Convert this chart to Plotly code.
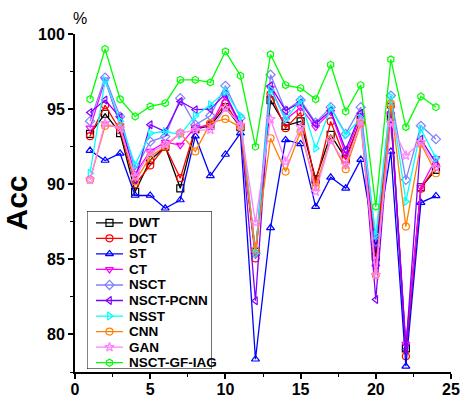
import plotly.graph_objects as go

x_vals = list(range(1, 25))

DWT = [93.35, 94.69, 93.4, 89.5, 91.6, 92.5, 89.73, 93.67, 93.9, 95.13, 93.8, 85.5,
       95.6, 93.89, 94.18, 90.33, 93.29, 91.7, 94.29, 85.18, 94.5, 79.07, 89.8, 90.96]
DCT = [93.2, 95.25, 93.6, 90.0, 91.25, 92.5, 90.4, 93.7, 94.0, 95.4, 93.8, 85.06,
       96.0, 93.73, 94.78, 90.11, 94.18, 91.62, 94.29, 85.62, 95.2, 78.55, 89.7, 91.2]
ST = [92.24, 91.58, 92.05, 89.25, 89.25, 88.4, 88.95, 93.2, 90.55, 91.98, 93.4, 78.35,
      87.1, 92.95, 92.68, 88.51, 90.46, 89.73, 91.64, 85.8, 92.18, 77.88, 88.78, 89.22]
CT = [93.75, 96.95, 93.9, 90.7, 92.2, 92.8, 92.6, 93.8, 93.9, 95.84, 93.9, 85.3,
      96.4, 94.3, 95.1, 93.8, 94.8, 92.0, 94.6, 84.5, 94.62, 79.35, 89.8, 91.73]
NSCT = [94.2, 97.1, 94.5, 90.96, 92.84, 93.18, 95.73, 93.96, 94.56, 96.55, 94.4, 85.4,
        97.29, 94.9, 95.6, 94.1, 95.13, 93.35, 95.13, 86.18, 95.9, 90.29, 93.89, 93.0]
NSCT_PCNN = [94.78, 95.6, 94.45, 90.3, 93.96, 93.5, 95.51, 94.96, 95.0, 96.0, 94.0, 82.24,
             96.55, 94.9, 95.44, 94.02, 94.9, 92.29, 94.73, 82.33, 94.8, 79.0, 93.0, 91.4]
NSST = [90.73, 96.9, 94.2, 91.29, 93.4, 93.51, 93.3, 94.55, 95.29, 96.18, 94.55, 85.4,
        96.29, 94.33, 95.58, 92.4, 95.07, 93.29, 94.4, 86.62, 95.8, 88.85, 93.67, 91.73]
CNN = [90.3, 93.89, 93.84, 90.18, 91.84, 92.51, 93.4, 92.18, 94.07, 94.35, 93.8, 85.6,
       93.06, 90.84, 93.51, 89.84, 93.0, 91.0, 94.02, 83.95, 95.36, 87.18, 92.69, 90.73]
GAN = [90.3, 94.07, 93.7, 90.51, 92.1, 92.62, 93.4, 93.6, 93.62, 95.07, 93.95, 87.44,
       94.33, 91.5, 93.8, 89.51, 92.91, 91.29, 94.2, 83.95, 94.07, 91.91, 92.8, 91.1]
NSCT_GF_IAG = [95.66, 99.0, 95.66, 94.51, 95.18, 95.4, 96.95, 96.95, 96.78, 98.84, 97.22, 92.5,
               98.64, 96.6, 96.4, 95.66, 97.95, 94.84, 96.6, 88.51, 98.31, 93.8, 95.84, 95.13]

series_names = ["DWT", "DCT", "ST", "CT", "NSCT", "NSCT-PCNN", "NSST", "CNN", "GAN", "NSCT-GF-IAG"]
series_values = [DWT, DCT, ST, CT, NSCT, NSCT_PCNN, NSST, CNN, GAN, NSCT_GF_IAG]
colors = ["#000000", "#FF0000", "#0000FF", "#FF00FF", "#8080FF", "#8000FF",
          "#00FFFF", "#FF8000", "#FF80FF", "#00FF00"]
symbols = ["square-open", "circle-open", "triangle-up-open", "triangle-down-open",
           "diamond-open", "triangle-left-open", "triangle-right-open", "circle-open",
           "star-open", "hexagon-open"]

FONT = "Liberation Sans, Arial"

fig = go.Figure()
for name, vals, c, s in zip(series_names, series_values, colors, symbols):
    fig.add_trace(go.Scatter(
        x=x_vals, y=vals, name=name, mode="lines+markers", showlegend=False,
        line=dict(color=c, width=1.3),
        marker=dict(symbol=s, size=7, color=c, line=dict(color=c, width=1.2)),
    ))

# Compact legend drawn in its own small axes (units ~ pixels inside the box)
LX0, LX1, LY0, LY1 = 0.0, 125.0, 0.0, 158.0
row_first, row_step = 11.7, 15.56
annotations = []
for i, (name, c, s) in enumerate(zip(series_names, colors, symbols)):
    ry = row_first + i * row_step
    fig.add_trace(go.Scatter(
        x=[9, 36], y=[ry, ry], mode="lines", xaxis="x2", yaxis="y2",
        showlegend=False, hoverinfo="skip", line=dict(color=c, width=1.3)))
    fig.add_trace(go.Scatter(
        x=[22.5], y=[ry], mode="markers", xaxis="x2", yaxis="y2",
        showlegend=False, hoverinfo="skip",
        marker=dict(symbol=s, size=7, color=c, line=dict(color=c, width=1.2))))
    annotations.append(dict(
        text=name, xref="x2", yref="y2", x=40, y=ry, xanchor="left", yanchor="middle",
        showarrow=False, font=dict(family=FONT, size=13.5, color="black", weight="bold")))

annotations.append(dict(text="%", xref="paper", yref="paper", x=0.013, y=1.0,
                        xanchor="center", yanchor="bottom", yshift=5, showarrow=False,
                        font=dict(family=FONT, size=16, color="black")))

fig.update_layout(
    width=465, height=400,
    margin=dict(l=75, r=14, t=34, b=28),
    paper_bgcolor="white", plot_bgcolor="white",
    font=dict(family=FONT, color="black"),
    showlegend=False,
    xaxis=dict(
        range=[0, 25], tickmode="array", tickvals=[0, 5, 10, 15, 20, 25], automargin=False,
        showgrid=False, zeroline=False, showline=True, linecolor="black", linewidth=2,
        ticks="outside", ticklen=5, tickwidth=2, tickcolor="black", ticklabelstandoff=-3,
        tickfont=dict(family=FONT, size=16, color="black", weight="bold"),
        minor=dict(tickvals=[2.5, 7.5, 12.5, 17.5, 22.5], ticks="outside", ticklen=3,
                   tickwidth=1, tickcolor="black"),
    ),
    yaxis=dict(
        range=[77.5, 100], tickmode="array", tickvals=[80, 85, 90, 95, 100], automargin=False,
        showgrid=False, zeroline=False, showline=True, linecolor="black", linewidth=2,
        ticks="outside", ticklen=5, tickwidth=2, tickcolor="black",
        tickfont=dict(family=FONT, size=16, color="black", weight="bold"),
        minor=dict(tickvals=[77.5, 82.5, 87.5, 92.5, 97.5], ticks="outside", ticklen=3,
                   tickwidth=1, tickcolor="black"),
        title=dict(text="Acc", font=dict(family=FONT, size=30, color="black", weight="bold"),
                   standoff=8),
    ),
    xaxis2=dict(domain=[0.0319, 0.364], range=[LX0, LX1], visible=False, fixedrange=True,
                anchor="y2"),
    yaxis2=dict(domain=[0.009, 0.476], range=[LY1, LY0], visible=False, fixedrange=True,
                anchor="x2"),
    shapes=[dict(type="rect", xref="x2", yref="y2", x0=LX0, x1=LX1, y0=LY0, y1=LY1,
                 line=dict(color="black", width=1), fillcolor="white", layer="below")],
    annotations=annotations,
)

fig.write_html("out.html")
